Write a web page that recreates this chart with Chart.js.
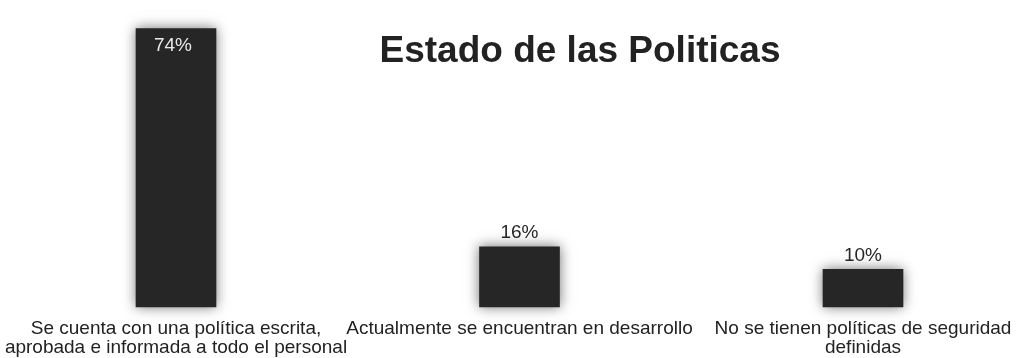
<!DOCTYPE html>
<html>
<head>
    <meta charset="utf-8">
    <title>Estado de las Politicas</title>
    <script src="https://cdn.jsdelivr.net/npm/chart.js@4/dist/chart.umd.min.js"></script>
    <style>
        html, body { margin: 0; padding: 0; background: #fff; }
        #wrap { width: 1021px; height: 358px; }
    </style>
</head>
<body>
    <div id="wrap"><canvas id="myChart"></canvas></div>

    <script>
        var chartTitle = 'Estado de las Politicas';
        var categories = [
            ['Se cuenta con una política escrita,', 'aprobada e informada a todo el personal'],
            'Actualmente se encuentran en desarrollo',
            ['No se tienen políticas de seguridad', 'definidas']
        ];
        var percentages = [74, 16, 10];

        var fontName = '"Liberation Sans", Arial, sans-serif';

        // soft dark halo around the bars
        var barShadow = {
            id: 'barShadow',
            beforeDatasetsDraw: function (chart) {
                var c = chart.ctx;
                c.save();
                c.shadowColor = 'rgba(0,0,0,0.55)';
                c.shadowBlur = 12;
            },
            afterDatasetsDraw: function (chart) {
                chart.ctx.restore();
            }
        };

        // percentages: first one inside the bar, the rest above
        var valueLabels = {
            id: 'valueLabels',
            afterDatasetsDraw: function (chart) {
                var c = chart.ctx;
                var meta = chart.getDatasetMeta(0);
                c.save();
                c.font = '19px ' + fontName;
                c.textAlign = 'center';
                c.textBaseline = 'middle';
                meta.data.forEach(function (bar, i) {
                    var txt = percentages[i] + '%';
                    if (i === 0) {
                        c.fillStyle = '#e8e8e8';
                        c.fillText(txt, bar.x - 3, bar.y + 17);
                    } else {
                        c.fillStyle = '#262626';
                        c.fillText(txt, bar.x, bar.y - 14);
                    }
                });
                c.restore();
            }
        };

        var drawTitle = {
            id: 'drawTitle',
            afterDraw: function (chart) {
                var c = chart.ctx;
                c.save();
                c.font = 'bold 37px ' + fontName;
                c.fillStyle = '#222';
                c.textAlign = 'center';
                c.textBaseline = 'alphabetic';
                c.fillText(chartTitle, 580, 62);
                c.restore();
            }
        };

        var ctx = document.getElementById('myChart').getContext('2d');
        var chart = new Chart(ctx, {
            type: 'bar',
            data: {
                labels: categories,
                datasets: [{
                    data: percentages,
                    backgroundColor: '#262626',
                    borderWidth: 0,
                    barThickness: 80,
                    clip: false
                }]
            },
            options: {
                responsive: true,
                maintainAspectRatio: false,
                animation: false,
                layout: {
                    padding: { left: 176, right: 158, top: 6, bottom: -3 }
                },
                plugins: {
                    legend: { display: false },
                    tooltip: { enabled: false }
                },
                scales: {
                    x: {
                        offset: false,
                        grid: { display: false, offset: false },
                        border: { display: false },
                        ticks: {
                            autoSkip: false,
                            maxRotation: 0,
                            padding: 4,
                            color: '#222',
                            font: { family: fontName, size: 19, lineHeight: 1.0 }
                        }
                    },
                    y: {
                        display: false,
                        min: 0,
                        max: 80
                    }
                }
            },
            plugins: [barShadow, valueLabels, drawTitle]
        });
    </script>
</body>
</html>
